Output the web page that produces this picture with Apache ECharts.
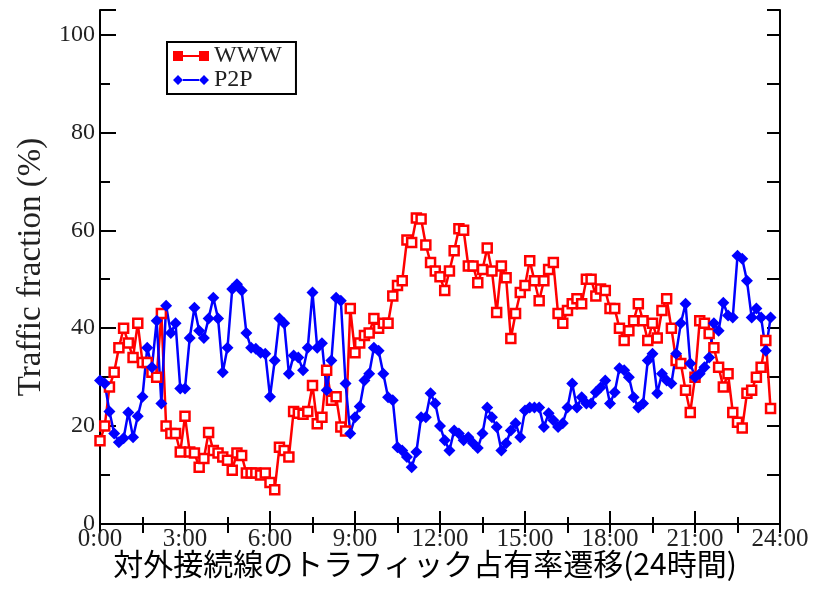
<!DOCTYPE html>
<html><head><meta charset="utf-8">
<script src="https://cdn.jsdelivr.net/npm/echarts@6/dist/echarts.min.js"></script>
<style>html,body{margin:0;padding:0;background:#fff}#c{width:815px;height:591px}</style>
</head><body><div id="c"></div>
<script>
const seriesNames = ['WWW', 'P2P'];
const xTickLabels = ['0:00','3:00','6:00','9:00','12:00','15:00','18:00','21:00','24:00'];
const yTickLabels = ['0','20','40','60','80','100'];
const xTitle = '対外接続線のトラフィック占有率遷移(24時間)';
const yTitle = 'Traffic fraction (%)';
const sampleStepHours = 1 / 6; // one sample every 10 minutes, from 0:00

const wwwValues = [
  17,20,28,31,36,40,37,34,41,33,
  33,31,30,43,20,18.5,18.5,14.7,22,14.7,
  14.5,11.6,13.4,18.7,15,14.5,13.7,13,11,14.5,
  14,10.4,10.4,10.4,10,10.4,8.5,7,15.7,15,
  13.7,23,22.6,22.4,23,28.3,20.5,21.8,31.4,25.3,
  26,19.8,19,44,35,37,38.5,39,42,40,
  41,41,46.6,48.7,49.7,58,57.5,62.5,62.3,57,
  53.4,51.7,50.5,47.7,51.7,55.8,60.3,60,52.7,52.7,
  49.3,52,56.4,51.7,43.2,52.7,50.3,37.9,43,47.3,
  48.7,53.8,49.7,45.6,49.7,52,53.4,43,41,43.6,
  45,46,45,50,50,46.6,48,47.7,44,44,
  40,37.5,39.5,41.5,45,41.5,37.5,41,38,43.6,
  46,40,33.4,32.8,27.3,22.8,30,41.5,41,38.9,
  36,32,28,30.7,22.8,20.8,19.6,26.7,27.3,30,
  32,37.5,23.6
];
const p2pValues = [
  29.3,28.7,23,18.5,16.7,17.5,22.8,17.7,22,26,
  36,32,41.5,24.6,44.6,39,41,27.7,27.7,38,
  44.2,39.5,38,42,46.2,42,31,36,48,49,
  47.7,39,36,35.8,35,34.8,26,33.4,42,41,
  30.7,34.4,34,31.4,36,47.3,36,36.9,27.3,33.4,
  46.2,45.6,28.7,18.5,21.8,24,29.3,30.7,36,35.4,
  30.7,25.9,25.3,15.7,15,13.7,11.6,14.7,21.8,21.8,
  26.7,24.6,20,17.1,15,19.1,18.5,17.1,17.7,16.5,
  15.5,18.5,23.8,21.8,19.8,15,16.5,19.1,20.6,17.7,
  23.2,23.8,23.8,23.8,19.8,22.6,21.2,19.8,20.6,23.8,
  28.7,23.8,25.9,24.6,24.6,26.9,27.9,29.3,24.6,26.9,
  31.8,31.4,30,25.9,23.8,24.6,33.4,34.8,26.7,30.7,
  29.3,28.7,34.8,41,45,32.8,30,30.7,32,34,
  41,39.5,45.2,42.6,42.2,54.8,54.2,49.7,42.2,44,
  42.2,35.4,42.2
];

function toPairs(vals) { return vals.map((v, i) => [i * sampleStepHours, v]); }

const serifFont = 'Liberation Serif';
const black = '#000';
const axisLine = { show: true, lineStyle: { color: black, width: 2 } };
const wwwLegendIcon = 'path://M0,0h10v10h-10z M10,4h16v2h-16z M26,0h10v10h-10z';
const p2pLegendIcon = 'path://M0,5L5,0L10,5L5,10z M10,4h16v2h-16z M26,5L31,0L36,5L31,10z';

const chart = echarts.init(document.getElementById('c'));
chart.setOption({
  animation: false,
  backgroundColor: '#fff',
  grid: { left: 100, right: 35, top: 10, bottom: 67 },
  legend: {
    orient: 'vertical', left: 167, top: 42,
    padding: [2, 14, 2, 6], itemGap: 0, itemWidth: 36, itemHeight: 10,
    borderColor: black, borderWidth: 2, borderRadius: 0,
    textStyle: { fontFamily: serifFont, fontSize: 24, color: '#222' },
    data: [
      { name: seriesNames[0], icon: wwwLegendIcon, itemStyle: { color: '#ff0000', borderWidth: 0 } },
      { name: seriesNames[1], icon: p2pLegendIcon, itemStyle: { color: '#0000ff', borderWidth: 0 } }
    ]
  },
  xAxis: [
    {
      type: 'value', min: 0, max: 24, interval: 3, position: 'bottom',
      axisLine: axisLine,
      axisTick: { show: true, inside: true, length: 13, lineStyle: { color: black, width: 2 } },
      minorTick: { show: true, splitNumber: 2, length: 7, lineStyle: { color: black, width: 2 } },
      splitLine: { show: false },
      axisLabel: {
        margin: 3, fontFamily: serifFont, fontSize: 25, color: '#222',
        formatter: v => (v % 3 === 0 ? xTickLabels[Math.round(v / 3)] : '')
      }
    },
    {
      type: 'value', min: 0, max: 24, interval: 1.5, position: 'top',
      axisLine: axisLine,
      axisTick: { show: true, inside: true, length: 9, lineStyle: { color: black, width: 2 } },
      splitLine: { show: false }, axisLabel: { show: false }
    }
  ],
  yAxis: [
    {
      type: 'value', min: 0, max: 105, interval: 20, position: 'left',
      axisLine: axisLine,
      axisTick: { show: true, inside: true, length: 16, lineStyle: { color: black, width: 2 } },
      splitLine: { show: false },
      axisLabel: {
        margin: 5, fontFamily: serifFont, fontSize: 24, color: '#222',
        formatter: v => (v % 20 === 0 && v <= 100 ? yTickLabels[v / 20] : '')
      },
      name: yTitle, nameLocation: 'middle', nameGap: 50,
      nameTextStyle: { fontFamily: serifFont, fontSize: 33, color: '#222' }
    },
    {
      type: 'value', min: 0, max: 105, interval: 10, position: 'left',
      axisLine: { show: false },
      axisTick: { show: true, inside: true, length: 10, lineStyle: { color: black, width: 2 } },
      splitLine: { show: false }, axisLabel: { show: false }
    },
    {
      type: 'value', min: 0, max: 105, interval: 10, position: 'right',
      axisLine: axisLine,
      axisTick: { show: true, inside: true, length: 13, lineStyle: { color: black, width: 2 } },
      splitLine: { show: false }, axisLabel: { show: false }
    }
  ],
  series: [
    {
      name: seriesNames[0], type: 'line', xAxisIndex: 0, yAxisIndex: 0,
      data: toPairs(wwwValues), showAllSymbol: true,
      symbol: 'rect', symbolSize: 9, color: '#ff0000',
      lineStyle: { color: '#ff0000', width: 2.5 },
      itemStyle: { color: '#ffffff', borderColor: '#ff0000', borderWidth: 2.5 }
    },
    {
      name: seriesNames[1], type: 'line', xAxisIndex: 0, yAxisIndex: 0,
      data: toPairs(p2pValues), showAllSymbol: true,
      symbol: 'diamond', symbolSize: 12, color: '#0000ff',
      lineStyle: { color: '#0000ff', width: 2.5 },
      itemStyle: { color: '#0000ff' }
    }
  ],
  graphic: [
    {
      type: 'text', x: 425, y: 564,
      style: {
        text: xTitle, fontFamily: 'Noto Sans CJK JP', fontSize: 30, fill: '#000',
        align: 'center', verticalAlign: 'middle'
      }
    }
  ]
});
</script></body></html>
